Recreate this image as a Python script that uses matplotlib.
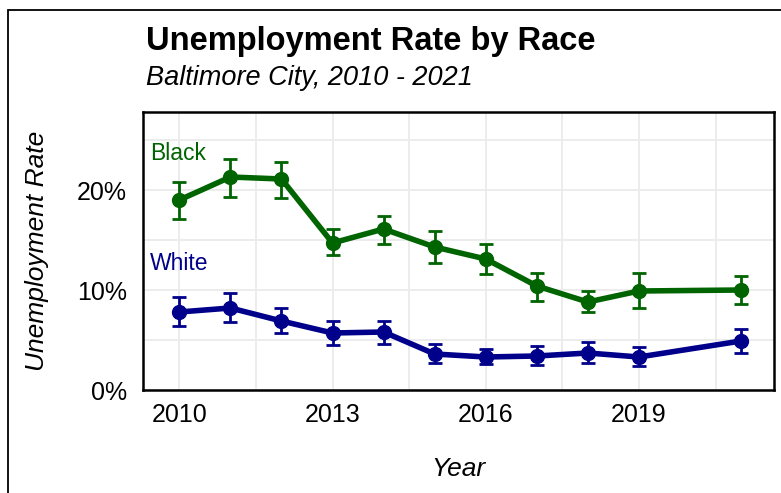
import matplotlib
matplotlib.use("Agg")
import matplotlib.pyplot as plt
from matplotlib.patches import Rectangle
from matplotlib.ticker import FuncFormatter, MultipleLocator

plt.rcParams['font.family'] = ['Liberation Sans', 'DejaVu Sans']

years = [2010, 2011, 2012, 2013, 2014, 2015, 2016, 2017, 2018, 2019, 2021]

black_rate = [19.0, 21.3, 21.1, 14.7, 16.1, 14.3, 13.1, 10.4, 8.8, 9.9, 10.0]
black_low = [17.1, 19.3, 19.2, 13.5, 14.6, 12.7, 11.6, 8.9, 7.8, 8.2, 8.6]
black_high = [20.8, 23.1, 22.8, 16.1, 17.4, 15.9, 14.6, 11.7, 9.9, 11.7, 11.4]

white_rate = [7.8, 8.2, 6.9, 5.7, 5.8, 3.6, 3.3, 3.4, 3.7, 3.3, 4.9]
white_low = [6.4, 6.8, 5.7, 4.5, 4.6, 2.7, 2.6, 2.5, 2.7, 2.4, 3.7]
white_high = [9.3, 9.7, 8.2, 6.9, 6.9, 4.6, 4.1, 4.4, 4.8, 4.3, 6.1]

x_ticks = [2010, 2013, 2016, 2019]
y_ticks = [0, 10, 20]

black_col = '#006400'
white_col = '#00008B'

W, H = 781, 493
fig = plt.figure(figsize=(W / 100, H / 100), dpi=100)

# outer frame (open on the right and bottom)
fig.patches.append(Rectangle((8 / W, -0.1), 1.2, 1 - 10.5 / H + 0.1,
                             transform=fig.transFigure, fill=False,
                             edgecolor='black', linewidth=1.3))

ax = fig.add_axes([143.3 / W, 1 - 390 / H, (774.3 - 143.3) / W, (390 - 111.7) / H])

def draw(rate, low, high, col):
    yerr = [[r - l for r, l in zip(rate, low)], [h - r for h, r in zip(high, rate)]]
    ax.errorbar(years, rate, yerr=yerr, fmt='none', ecolor=col,
                elinewidth=2.0, capsize=5.0, capthick=2.0, zorder=3)
    ax.plot(years, rate, color=col, linewidth=4.0, marker='o',
            markersize=10, zorder=4)

draw(black_rate, black_low, black_high, black_col)
draw(white_rate, white_low, white_high, white_col)

ax.text(2009.43, 23.7, 'Black', color=black_col, fontsize=16.5, va='center', ha='left')
ax.text(2009.43, 12.7, 'White', color=white_col, fontsize=16.5, va='center', ha='left')

ax.set_xlim(2009.295, 2021.65)
ax.set_ylim(0, 27.83)
ax.set_xticks(x_ticks)
ax.xaxis.set_minor_locator(MultipleLocator(1.5))
ax.set_yticks(y_ticks)
ax.yaxis.set_minor_locator(MultipleLocator(5))
ax.yaxis.set_major_formatter(FuncFormatter(lambda v, p: f'{v:.0f}%'))
ax.grid(which='both', color='#EBEBEB', linewidth=1.3, zorder=0)
ax.set_axisbelow(True)
ax.tick_params(which='both', length=0, labelsize=18, colors='black')
ax.tick_params(axis='x', pad=9)
ax.tick_params(axis='y', pad=12)
for s in ax.spines.values():
    s.set_linewidth(1.8)
    s.set_color('black')

ax.set_xlabel('Year', fontsize=19, style='italic', labelpad=22)
ax.set_ylabel('Unemployment Rate', fontsize=19, style='italic', labelpad=20)

fig.text(146 / W, 1 - 50 / H, 'Unemployment Rate by Race', fontsize=23.5,
         fontweight='bold', ha='left', va='baseline')
fig.text(146 / W, 1 - 85 / H, 'Baltimore City, 2010 - 2021', fontsize=19.5,
         style='italic', ha='left', va='baseline')

fig.savefig('out.png', dpi=100)
